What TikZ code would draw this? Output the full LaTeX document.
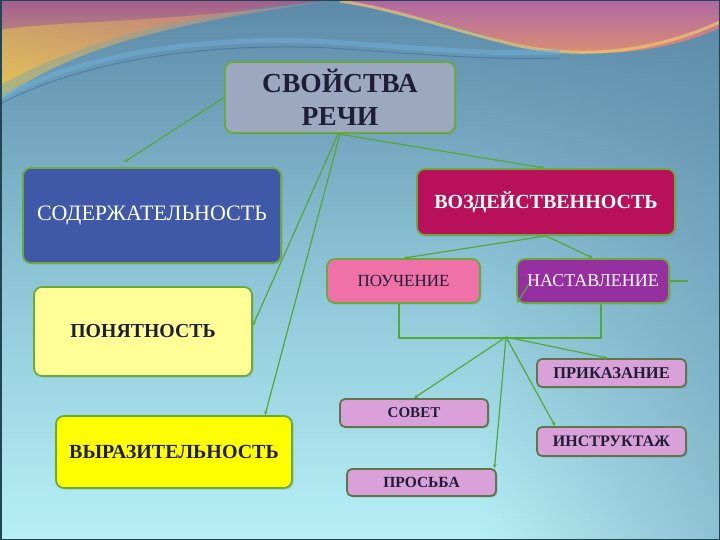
\documentclass[tikz,border=0pt]{standalone}
\usepackage{fontspec}
\setmainfont{Liberation Serif}
\usetikzlibrary{arrows.meta,shadows,fadings}
\definecolor{bgtop}{RGB}{92,138,168}
\definecolor{bgmid}{RGB}{140,196,214}
\definecolor{bgbot}{RGB}{182,240,246}
\definecolor{frame}{RGB}{30,70,85}
\definecolor{lnk}{RGB}{84,168,52}
\definecolor{bgreen}{RGB}{106,170,58}
\definecolor{bolive}{RGB}{96,118,72}
\definecolor{cSvo}{RGB}{155,168,192}
\definecolor{cSod}{RGB}{64,88,168}
\definecolor{cVoz}{RGB}{184,16,90}
\definecolor{cPou}{RGB}{240,112,168}
\definecolor{cNas}{RGB}{150,48,160}
\definecolor{cPon}{RGB}{255,255,150}
\definecolor{cVyr}{RGB}{255,255,0}
\definecolor{cLil}{RGB}{218,160,218}
\definecolor{tdark}{RGB}{30,30,55}
\tikzset{
  box/.style={draw=bgreen, line width=1.8pt, rounded corners=8pt, inner sep=0pt, align=center,
    drop shadow={shadow xshift=1.5pt, shadow yshift=-1.5pt, opacity=0.3}},
  smallbox/.style={box, draw=bolive, rounded corners=5pt},
  conn/.style={draw=lnk, line width=1.2pt},
  arr/.style={conn, -{Stealth[length=4pt,width=3.5pt]}},
}
\begin{document}
\begin{tikzpicture}[x=1pt,y=-1pt]
\useasboundingbox (0,0) rectangle (720,540);
% background
\shade[top color=bgtop, bottom color=bgbot, middle color=bgmid] (0,0) rectangle (720,540);
\fill[color=bgtop, path fading=west, opacity=0.45] (480,0) rectangle (720,540);
% top-left wave
\shade[top color={rgb,255:red,170;green,90;blue,140}, bottom color={rgb,255:red,232;green,185;blue,95}, opacity=0.9]
  (0,0) -- (335,0) .. controls (240,8) and (110,25) .. (0,85) -- cycle;
\shade[left color={rgb,255:red,230;green,200;blue,80}, right color={rgb,255:red,210;green,130;blue,130}, opacity=0.55]
  (0,30) .. controls (60,20) and (150,25) .. (335,0) .. controls (200,20) and (80,40) .. (0,100) -- cycle;
% top-right wave
\shade[top color={rgb,255:red,185;green,100;blue,165}, bottom color={rgb,255:red,238;green,150;blue,100}, opacity=0.9]
  (330,0) -- (720,0) -- (720,28) .. controls (660,55) and (580,62) .. (500,40)
  .. controls (440,22) and (380,6) .. (330,0) -- cycle;
\draw[line width=3pt, color={rgb,255:red,240;green,200;blue,110}, opacity=0.7]
  (340,1) .. controls (400,10) and (450,30) .. (520,46) .. controls (600,62) and (670,45) .. (720,22);
% blue streaks
\draw[line width=5pt, color={rgb,255:red,110;green,175;blue,215}, opacity=0.55]
  (0,98) .. controls (80,55) and (200,35) .. (330,42) .. controls (420,48) and (480,55) .. (560,52);
\draw[line width=1pt, color={rgb,255:red,60;green,110;blue,160}, opacity=0.6]
  (0,104) .. controls (80,62) and (200,42) .. (330,48) .. controls (420,54) and (480,60) .. (560,58);
% frame
\draw[frame, line width=1.5pt] (0.75,0.75) rectangle (719.25,539.25);

% nodes
\node[box, fill=cSvo, minimum width=230pt, minimum height=71pt, text=tdark,
  font=\fontsize{27.5}{33}\selectfont\bfseries] (svo) at (340,97.5) {СВОЙСТВА\\РЕЧИ};
\node[box, fill=cSod, minimum width=258pt, minimum height=95pt, text=white,
  font=\fontsize{22}{26}\selectfont] (sod) at (152,215.5) {СОДЕРЖАТЕЛЬНОСТЬ};
\node[box, fill=cVoz, minimum width=258pt, minimum height=66pt, text=white,
  font=\fontsize{20}{24}\selectfont\bfseries] (voz) at (546,202) {ВОЗДЕЙСТВЕННОСТЬ};
\node[box, fill=cPou, minimum width=153pt, minimum height=44pt, text=tdark,
  font=\fontsize{17}{20}\selectfont] (pou) at (403.5,281) {ПОУЧЕНИЕ};
\node[box, fill=cNas, minimum width=152pt, minimum height=44pt, text=white,
  font=\fontsize{18}{21}\selectfont] (nas) at (593,281) {НАСТАВЛЕНИЕ};
\node[box, fill=cPon, minimum width=218pt, minimum height=89pt, text=tdark,
  font=\fontsize{19.8}{23}\selectfont\bfseries] (pon) at (143,331.5) {ПОНЯТНОСТЬ};
\node[box, fill=cVyr, minimum width=236pt, minimum height=72pt, text=tdark,
  font=\fontsize{20}{24}\selectfont\bfseries] (vyr) at (174,452) {ВЫРАЗИТЕЛЬНОСТЬ};
\node[smallbox, fill=cLil, minimum width=149pt, minimum height=28pt, text=tdark,
  font=\fontsize{16.5}{19}\selectfont\bfseries] (pri) at (611.5,373) {ПРИКАЗАНИЕ};
\node[smallbox, fill=cLil, minimum width=148pt, minimum height=28pt, text=tdark,
  font=\fontsize{15}{18}\selectfont\bfseries] (sov) at (414,413) {СОВЕТ};
\node[smallbox, fill=cLil, minimum width=149pt, minimum height=29pt, text=tdark,
  font=\fontsize{16}{19}\selectfont\bfseries] (ins) at (611.5,441.5) {ИНСТРУКТАЖ};
\node[smallbox, fill=cLil, minimum width=149pt, minimum height=27pt, text=tdark,
  font=\fontsize{15.5}{18}\selectfont\bfseries] (pro) at (421.5,482.5) {ПРОСЬБА};

% connectors
\coordinate (fan) at (506,337);
\coordinate (stub) at (688,281);
\draw[arr] (svo.west) -- ([xshift=-28pt,yshift=5pt]sod.north);
\draw[arr] ([xshift=-2pt]svo.south) -- ([xshift=-1pt]voz.north);
\draw[arr] ([xshift=-2pt]svo.south) -- ([yshift=6pt]pon.east);
\draw[arr] (svo.south) -- ([xshift=91pt]vyr.north);
\draw[arr] (voz.south) -- (pou.north);
\draw[arr] (voz.south) -- (nas.north);
\draw[conn] (nas.east) -- (stub);
\draw[arr] ([xshift=13pt,yshift=-3pt]nas.west) -- ([xshift=1pt,yshift=1pt]nas.south west);
\draw[conn] ([xshift=-4.5pt]pou.south) -- ++(0,34) -| ([xshift=8pt]nas.south);
\draw[arr] (fan) -- ([xshift=-4pt]pri.north);
\draw[arr] (fan) -- (sov.north);
\draw[arr] (fan) -- ([xshift=73pt]pro.north);
\draw[arr] (fan) -- ([xshift=19pt]ins.north west);
\end{tikzpicture}
\end{document}
